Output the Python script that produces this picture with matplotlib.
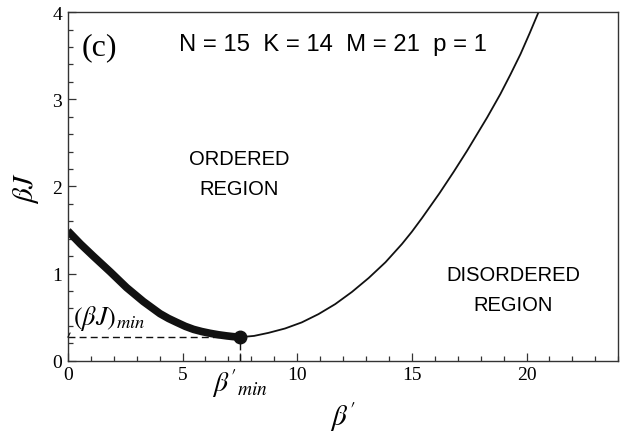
import numpy as np
import matplotlib
matplotlib.use("Agg")
import matplotlib.pyplot as plt
from matplotlib.ticker import MultipleLocator

plt.rcParams['mathtext.fontset'] = 'stix'
plt.rcParams['font.family'] = 'Liberation Serif'

# ordered branch, beta' from 0 up to the minimum (drawn thick)
bp_ordered = [0.0, 0.55, 1.11, 1.85, 2.56, 3.29, 4.02, 4.39, 4.75, 5.12, 5.48,
              5.84, 6.2, 6.57, 6.93, 7.2, 7.5]
bJ_ordered = [1.49, 1.34, 1.20, 1.02, 0.84, 0.68, 0.54, 0.485, 0.44, 0.395, 0.36,
              0.335, 0.315, 0.298, 0.285, 0.277, 0.27]

# critical line beyond the minimum (drawn thin)
bp_crit = [7.5, 8.12, 8.75, 9.47, 10.2, 10.93, 11.66, 12.39, 13.12, 13.85, 14.57,
           15.0, 15.45, 16.2, 16.83, 17.41, 18.28, 18.86, 19.3, 19.74, 20.14, 20.54]
bJ_crit = [0.27, 0.285, 0.32, 0.37, 0.44, 0.535, 0.65, 0.79, 0.95, 1.13, 1.34,
           1.48, 1.64, 1.92, 2.17, 2.41, 2.79, 3.06, 3.285, 3.52, 3.76, 4.01]

bp_min = 7.5
bJ_min = 0.27

xtick_pos = [0, 5, bp_min, 10, 15, 20]
xtick_lab = ['0', '5', r"$\beta'_{min}$", '10', '15', '20']
ytick_pos = [0, 1, 2, 3, 4]

fig = plt.figure(figsize=(6.4, 4.39), dpi=100)
ax = fig.add_axes([0.106, 0.176, 0.86, 0.794])

ax.plot(bp_crit, bJ_crit, color='#111111', lw=1.3, solid_capstyle='butt')
ax.plot(bp_ordered, bJ_ordered, color='#111111', lw=5.5, solid_capstyle='butt')
ax.plot([bp_min], [bJ_min], 'o', color='#111111', ms=9)

# guide lines to the axes
ax.plot([0, bp_min], [bJ_min, bJ_min], color='#111111', lw=1.0, dashes=(5, 3))
ax.plot([bp_min, bp_min], [0, bJ_min], color='#111111', lw=1.0, dashes=(5, 3))

ax.annotate(r'$(\beta J)_{min}$', xy=(0, bJ_min), xytext=(0.22, 0.33),
            fontsize=19, ha='left', va='bottom',
            arrowprops=dict(arrowstyle='-', color='#111111', lw=0.8,
                            shrinkA=0, shrinkB=0, relpos=(0.0, 0.15)))

ax.text(0.6, 3.6, '(c)', fontsize=23, ha='left', va='center')
ax.text(11.55, 3.64, 'N = 15  K = 14  M = 21  p = 1', fontsize=17.2,
        ha='center', va='center', family='Liberation Sans')
ax.text(7.47, 2.15, 'ORDERED\nREGION', fontsize=14.5, ha='center', va='center',
        family='Liberation Sans', linespacing=1.75)
ax.text(19.41, 0.82, 'DISORDERED\nREGION', fontsize=14.5, ha='center', va='center',
        family='Liberation Sans', linespacing=1.75)

ax.set_xlim(0, 24)
ax.set_ylim(0, 4)
ax.set_xticks(xtick_pos)
ax.set_xticklabels(xtick_lab)
ax.set_yticks(ytick_pos)
ax.xaxis.set_minor_locator(MultipleLocator(1))
ax.yaxis.set_minor_locator(MultipleLocator(0.2))
ax.tick_params(which='both', direction='in', top=False, right=False,
               labelsize=14, color='#333333', width=0.9)
ax.tick_params(which='major', length=6, pad=4)
ax.tick_params(which='minor', length=3.5)
for lab in ax.get_xticklabels():
    if 'beta' in lab.get_text():
        lab.set_fontsize(20)
for sp in ax.spines.values():
    sp.set_color('#333333')
    sp.set_linewidth(1.0)

ax.set_xlabel(r"$\beta'$", fontsize=21, labelpad=0)
ax.set_ylabel(r'$\beta J$', fontsize=21, labelpad=8)

fig.savefig('out.png', dpi=100)
